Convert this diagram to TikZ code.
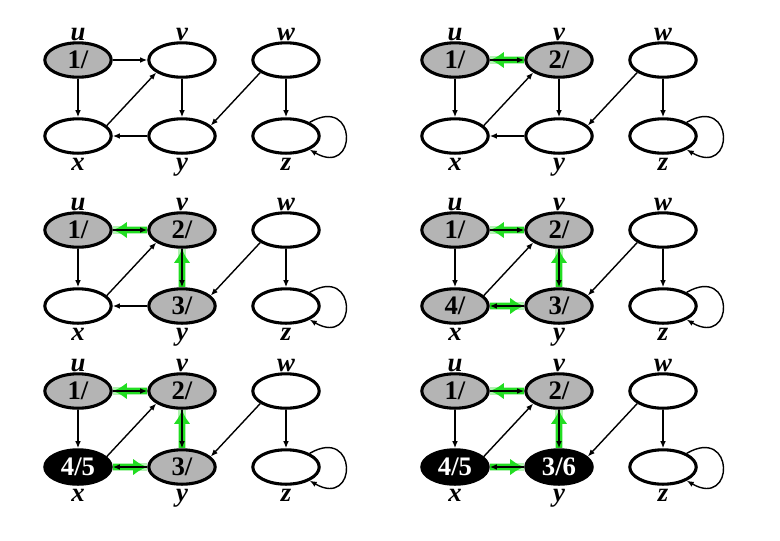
\documentclass[tikz,border=0pt]{standalone}
\usepackage{fontspec}
\setmainfont{Liberation Serif}
\usetikzlibrary{shapes.geometric,arrows.meta}
\begin{document}
\begin{tikzpicture}[x=0.025cm,y=-0.025cm,
  vtx/.style={ellipse,draw,line width=2.2pt,minimum width=1.66cm,minimum height=0.86cm,
              inner sep=0pt,font=\bfseries\fontsize{19}{19}\selectfont},
  whitev/.style={vtx,fill=white},
  grayv/.style={vtx,fill=dfsgray},
  blackv/.style={vtx,fill=black,text=white},
  lbl/.style={font=\bfseries\itshape\fontsize{19}{19}\selectfont,inner sep=0pt},
  edge/.style={line width=1pt,-{Latex[length=5pt,width=4pt]}},
  tree/.style={dfsgreen,line width=4pt,-{Latex[length=10pt,width=12pt]},
               preaction={draw=dfsgreen!35,line width=6pt,-}}]
  \definecolor{dfsgray}{HTML}{B4B4B4}
  \definecolor{dfsgreen}{HTML}{22DD22}
  \path[use as bounding box] (0,0) rectangle (780,540);

  % six snapshots of the search, two per row
  \foreach \p/\sx/\sy/\us/\ut/\vs/\vt/\xs/\xt/\ys/\yt in {
    1/0/0/grayv/{1/}/whitev/{}/whitev/{}/whitev/{},
    2/377/0/grayv/{1/}/grayv/{2/}/whitev/{}/whitev/{},
    3/0/170/grayv/{1/}/grayv/{2/}/whitev/{}/grayv/{3/},
    4/377/170/grayv/{1/}/grayv/{2/}/grayv/{4/}/grayv/{3/},
    5/0/331/grayv/{1/}/grayv/{2/}/blackv/{4/5}/grayv/{3/},
    6/377/331/grayv/{1/}/grayv/{2/}/blackv/{4/5}/blackv/{3/6}
  }{
    \begin{scope}[shift={(\sx,\sy)}]
      \node[\us,label={[lbl]above:u}] (u\p) at (78,60) {\ut};
      \node[\vs,label={[lbl]above:v}] (v\p) at (182,60) {\vt};
      \node[whitev,label={[lbl]above:w}] (w\p) at (286,60) {};
      \node[\xs,label={[lbl,yshift=-2pt]below:x}] (x\p) at (78,136) {\xt};
      \node[\ys,label={[lbl,yshift=-2pt]below:y}] (y\p) at (182,136) {\yt};
      \node[whitev,label={[lbl,yshift=-2pt]below:z}] (z\p) at (286,136) {};
      \draw[edge] (u\p) -- (v\p);
      \draw[edge] (u\p) -- (x\p);
      \draw[edge] (x\p.20) -- (v\p.206);
      \draw[edge] (v\p) -- (y\p);
      \draw[edge] (y\p) -- (x\p);
      \draw[edge] (w\p.206) -- (y\p.20);
      \draw[edge] (w\p) -- (z\p);
      \draw[edge] (z\p.30) to[out=30,in=-30,looseness=5.2] (z\p.-30);
    \end{scope}
  }

  % tree edges in green, black edge kept on top
  \foreach \p in {2,...,6}{
    \draw[tree] (v\p) -- (u\p);
    \draw[edge] (u\p) -- (v\p);
  }
  \foreach \p in {3,...,6}{
    \draw[tree] (y\p) -- (v\p);
    \draw[edge] (v\p) -- (y\p);
  }
  \foreach \p in {4,5,6}{
    \draw[tree] (x\p) -- (y\p);
    \draw[edge] (y\p) -- (x\p);
  }
\end{tikzpicture}
\end{document}
